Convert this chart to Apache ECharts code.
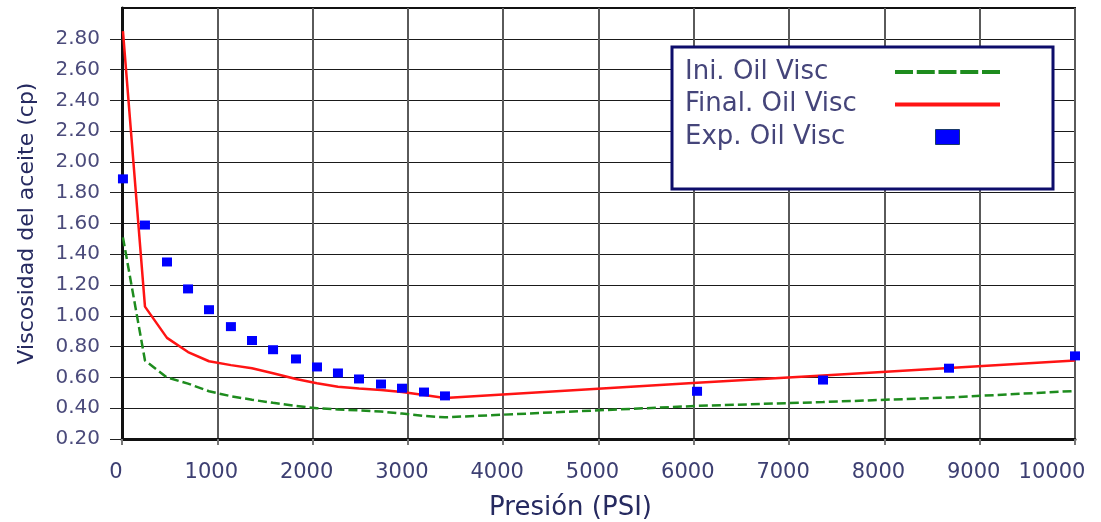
<!DOCTYPE html>
<html>
<head>
<meta charset="utf-8">
<script src="https://cdn.jsdelivr.net/npm/echarts@6/dist/echarts.min.js"></script>
<style>
  html, body { margin: 0; padding: 0; background: #ffffff; }
  #chart { width: 1101px; height: 522px; }
</style>
</head>
<body>
<div id="chart"></div>
<script>
// Pressure (psi) sampling points shared by the model curves and lab data
const pressure = [10, 241, 472, 693, 913, 1143, 1364, 1585, 1826, 2046, 2266, 2487, 2718, 2938, 3169, 3389, 6034, 7356, 8678, 10000];

// Oil viscosity (cp)
const viscIni   = [1.51, 0.71, 0.60, 0.56, 0.51, 0.478, 0.455, 0.435, 0.415, 0.40, 0.392, 0.386, 0.378, 0.365, 0.35, 0.341, 0.415, 0.44, 0.47, 0.512];
const viscFinal = [2.85, 1.06, 0.857, 0.765, 0.705, 0.68, 0.66, 0.627, 0.59, 0.562, 0.54, 0.528, 0.518, 0.506, 0.486, 0.467, 0.565, 0.613, 0.661, 0.71];
const viscExp   = [1.89, 1.59, 1.35, 1.175, 1.04, 0.93, 0.84, 0.78, 0.72, 0.668, 0.629, 0.59, 0.557, 0.53, 0.505, 0.48, 0.51, 0.583, 0.66, 0.74];

// Labelled viscosity ticks (the axis itself runs up to 3.0)
const yTicks = [0.2, 0.4, 0.6, 0.8, 1.0, 1.2, 1.4, 1.6, 1.8, 2.0, 2.2, 2.4, 2.6, 2.8];

const seriesNames = ['Ini. Oil Visc', 'Final. Oil Visc', 'Exp. Oil Visc'];
const xAxisTitle = 'Presión (PSI)';
const yAxisTitle = 'Viscosidad del aceite (cp)';

const pairs = (xs, ys) => xs.map((x, i) => [x, ys[i]]);

const FONT = 'DejaVu Sans';
const X_MAX = 10000;
const chart = echarts.init(document.getElementById('chart'), null, { renderer: 'canvas' });

chart.setOption({
  animation: false,
  backgroundColor: '#ffffff',
  grid: {
    left: 122, right: 26, top: 8, bottom: 83,
    outerBoundsMode: 'none',
    containLabel: false,
    show: true, borderColor: '#111111', borderWidth: 2
  },
  xAxis: {
    type: 'value',
    min: 0, max: X_MAX, interval: 1000,
    name: xAxisTitle,
    nameLocation: 'middle',
    nameGap: 56,
    nameTextStyle: { fontFamily: FONT, fontSize: 26, color: '#262a60', padding: [0, 56, 0, 0] },
    axisLine: { show: true, onZero: false, lineStyle: { color: '#111111', width: 3 } },
    axisTick: { show: true, length: 6, lineStyle: { color: '#777777', width: 2 } },
    axisLabel: {
      margin: 23, fontFamily: FONT, fontSize: 21, color: '#3d3f72',
      formatter: v => (v >= X_MAX ? '{end|' + Math.round(v) + '}' : '{n|' + Math.round(v) + '}'),
      rich: {
        n: { fontFamily: FONT, fontSize: 21, color: '#3d3f72', padding: [0, 12, 0, 0] },
        end: { fontFamily: FONT, fontSize: 21, color: '#3d3f72', padding: [0, 46, 4, 0] }
      }
    },
    splitLine: { show: true, lineStyle: { color: '#5a5a5a', width: 2 } }
  },
  yAxis: {
    type: 'value',
    min: 0.2, max: 3.0, interval: 0.2,
    name: yAxisTitle,
    nameLocation: 'middle',
    nameGap: 84,
    nameTextStyle: { fontFamily: FONT, fontSize: 22, color: '#262a60' },
    axisLine: { show: true, onZero: false, lineStyle: { color: '#111111', width: 3 } },
    axisTick: { show: true, length: 12, customValues: yTicks, lineStyle: { color: '#222222', width: 1 } },
    axisLabel: {
      margin: 22, fontFamily: FONT, fontSize: 20, color: '#4b4b7b',
      customValues: yTicks,
      formatter: v => v.toFixed(2)
    },
    splitLine: { show: true, lineStyle: { color: '#1a1a1a', width: 1 } }
  },
  legend: {
    orient: 'vertical',
    left: 672, top: 47,
    align: 'right',
    selectedMode: false,
    padding: [12, 51, 39, 13],
    itemGap: 6.5,
    itemWidth: 105,
    itemHeight: 15,
    borderColor: '#0d0d6b',
    borderWidth: 3,
    backgroundColor: '#ffffff',
    formatter: '{t|{name}}',
    textStyle: {
      fontFamily: FONT, fontSize: 26, color: '#45457a',
      rich: { t: { width: 205, align: 'left', fontFamily: FONT, fontSize: 26, color: '#45457a' } }
    },
    data: [
      { name: seriesNames[0], lineStyle: { type: [18, 3.75], width: 4 }, itemStyle: { opacity: 0 } },
      { name: seriesNames[1], lineStyle: { width: 4 }, itemStyle: { opacity: 0 } },
      { name: seriesNames[2], icon: 'path://M0,0H24V15H0Z', itemStyle: { borderColor: '#1a3a6a', borderWidth: 1 } }
    ]
  },
  series: [
    {
      name: seriesNames[0],
      type: 'line',
      data: pairs(pressure, viscIni),
      symbol: 'none',
      lineStyle: { color: '#1e8c1e', width: 2.5, type: [9, 4] },
      itemStyle: { color: '#1e8c1e' },
      z: 3
    },
    {
      name: seriesNames[1],
      type: 'line',
      data: pairs(pressure, viscFinal),
      symbol: 'none',
      lineStyle: { color: '#ff1414', width: 2.5 },
      itemStyle: { color: '#ff1414' },
      z: 4
    },
    {
      name: seriesNames[2],
      type: 'scatter',
      data: pairs(pressure, viscExp),
      symbol: 'rect',
      symbolSize: [10, 9],
      symbolKeepAspect: true,
      itemStyle: { color: '#0000ff', opacity: 1 },
      z: 5
    }
  ]
});
</script>
</body>
</html>
